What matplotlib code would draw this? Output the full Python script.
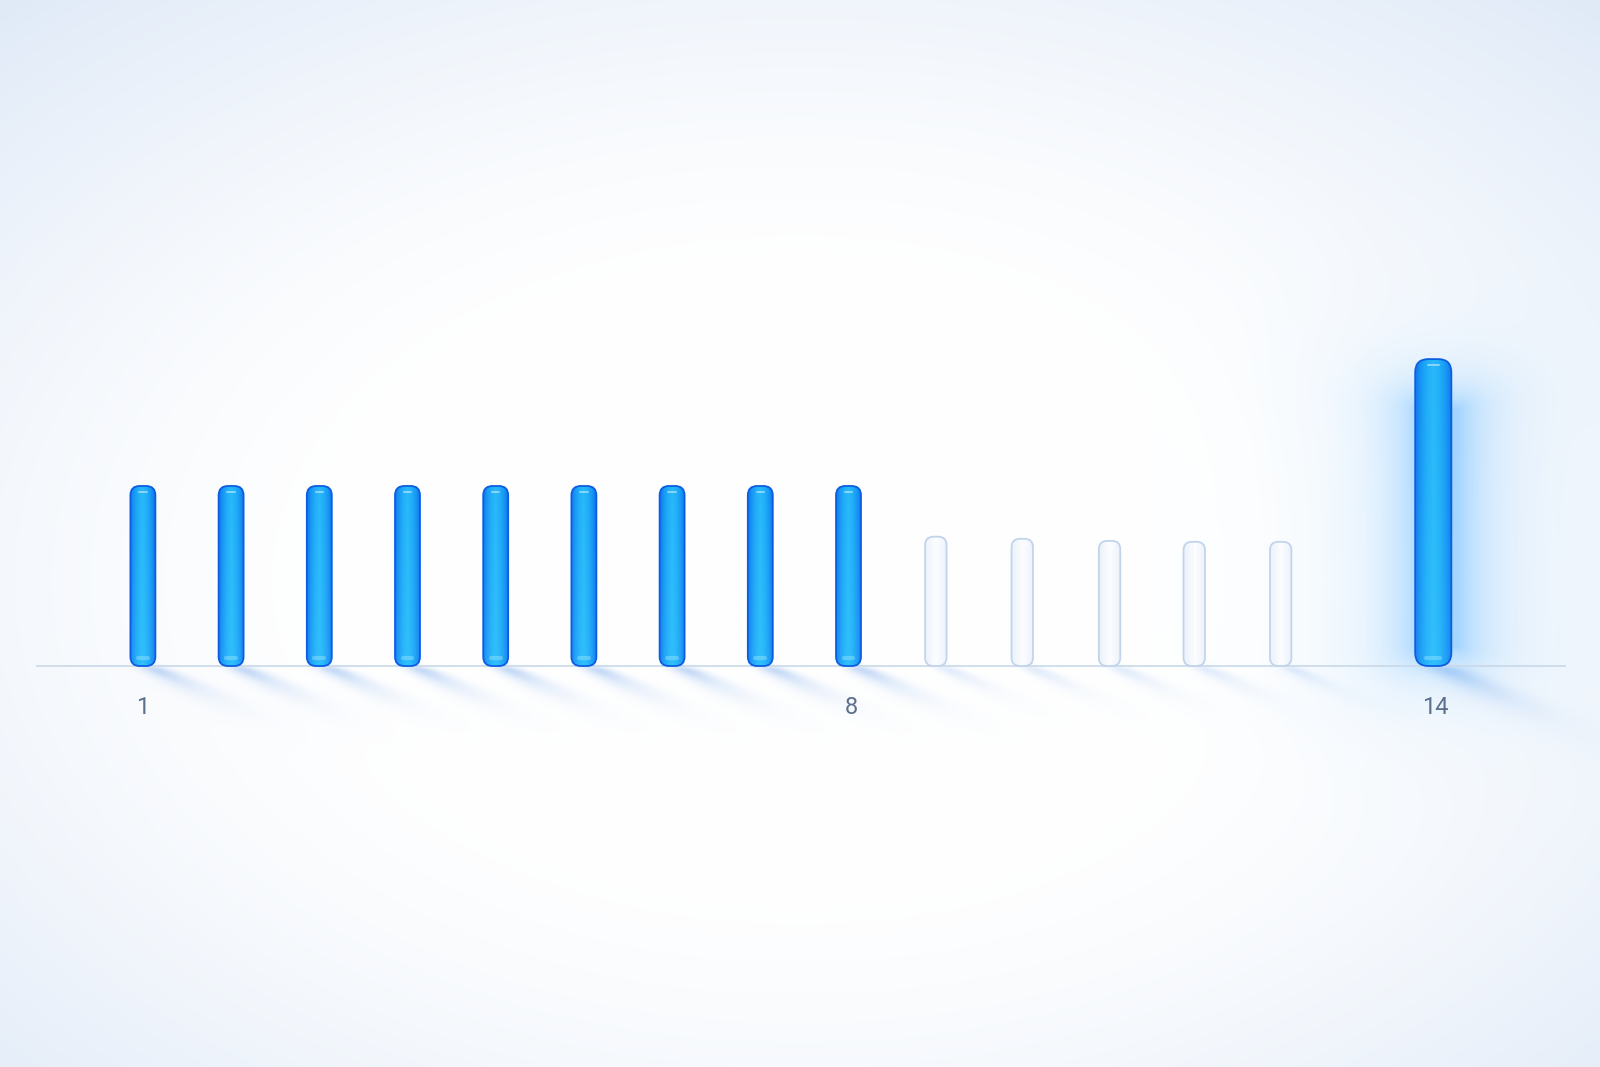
import numpy as np
import matplotlib
matplotlib.use("Agg")
import matplotlib.pyplot as plt
from matplotlib.patches import FancyBboxPatch
from matplotlib.colors import to_rgb

# data
bar_pos = [0, 1, 2, 3, 4, 5, 6, 7, 8, 8.99, 9.97, 10.96, 11.92, 12.9, 14.63]
bar_val = [60, 60, 60, 60, 60, 60, 60, 60, 60, 43.1, 42.4, 41.7, 41.4, 41.4, 102.3]
bar_kind = ['done'] * 9 + ['todo'] * 5 + ['goal']
tick_pos = [0, 8.03, 14.65]
tick_labels = ['1', '8', '14']

W, H = 1600, 1067
SX, SY = 88.2, 3.0           # pixels per data unit
X0_PX, BASE_PX = 142.9, 666  # pixel of x=0 / y=0 (from top)
xlim = (-X0_PX / SX, (W - X0_PX) / SX)
ylim = (-(H - BASE_PX) / SY, BASE_PX / SY)

width = {'done': 0.283, 'todo': 0.243, 'goal': 0.41}
radius = {'done': 0.105, 'todo': 0.095, 'goal': 0.15}

fig = plt.figure(figsize=(16, 10.67), dpi=100)
ax = fig.add_axes([0, 0, 1, 1])
ax.axis('off')

# background, shadows and glow built as one image in pixel space
X, Y = np.meshgrid(np.arange(W) + 0.5, np.arange(H) + 0.5)
r = np.sqrt(((X - 800) / 950) ** 2 + ((Y - 580) / 620) ** 2)
t = np.clip((r - 0.45) / 0.85, 0, 1) ** 1.5
white = np.array(to_rgb('#ffffff'))
edge = np.array(to_rgb('#dde8f7'))
img = white[None, None, :] * (1 - t[..., None]) + edge[None, None, :] * t[..., None]


def blend(img, alpha, color):
    c = np.array(to_rgb(color))
    a = np.clip(alpha, 0, 1)[..., None]
    return img * (1 - a) + c[None, None, :] * a


for x, v, k in zip(bar_pos, bar_val, bar_kind):
    cx = X0_PX + x * SX
    wpx = width[k] * SX
    dy = Y - BASE_PX
    dyp = np.clip(dy, 0, None)
    strength = {'done': 0.5, 'todo': 0.26, 'goal': 0.5}[k]
    length = {'done': 17, 'todo': 15, 'goal': 24}[k]
    xc = cx + 6 + 2.0 * dyp
    half = wpx * 0.5 + 0.4 * dyp
    across = (X - xc) / half
    gate = 1 / (1 + np.exp(-(dy - 1) / 1.5))
    sh = strength * gate * np.exp(-dyp / length) * np.exp(-across ** 2)
    img = blend(img, sh, '#5f98e8')
    if k == 'goal':
        top = BASE_PX - v * SY
        ddx = np.clip(np.abs(X - cx - 6) - wpx / 2, 0, None)
        ddy = np.clip(np.maximum(top + 50 - Y, Y - BASE_PX + 20), 0, None)
        d = np.sqrt(ddx ** 2 + (ddy * 1.3) ** 2)
        glow = 0.45 * np.exp(-d / 30) + 0.12 * np.exp(-d / 90)
        img = blend(img, glow, '#62b8ff')

ax.imshow(img, extent=[xlim[0], xlim[1], ylim[0], ylim[1]], origin='upper',
          aspect='auto', zorder=0, interpolation='bilinear')

# baseline
ax.hlines(0, (36 - X0_PX) / SX, (1566 - X0_PX) / SX, color='#c9d8e8', lw=1.2, zorder=1)

asp = SX / SY
stops = ['#1178ee', '#189cf5', '#22b2f9', '#2abdfb', '#22b2f9', '#189cf5', '#1178ee']
stop_rgb = np.array([to_rgb(c) for c in stops])
u = np.linspace(0, 6, 60)
row = np.stack([np.interp(u, np.arange(7), stop_rgb[:, i]) for i in range(3)], axis=-1)

for x, v, k in zip(bar_pos, bar_val, bar_kind):
    w = width[k]
    rr = radius[k]
    style = f"round,pad=0,rounding_size={rr}"
    box = FancyBboxPatch((x - w / 2, 0), w, v, boxstyle=style, mutation_aspect=asp,
                         facecolor='none', edgecolor='none')
    ax.add_patch(box)
    if k == 'todo':
        fill = np.stack([np.interp(np.linspace(0, 1, 40), [0, 0.5, 1], [c1, c2, c1])
                         for c1, c2 in zip(to_rgb('#eaf1fa'), to_rgb('#fcfdff'))], axis=-1)[None, :, :]
        im = ax.imshow(fill, extent=[x - w / 2, x + w / 2, 0, v], aspect='auto', zorder=3, alpha=0.85)
        im.set_clip_path(box)
        ax.add_patch(FancyBboxPatch((x - w / 2, 0), w, v, boxstyle=style, mutation_aspect=asp,
                                    facecolor='none', edgecolor='#c2d4ec', lw=1.3, zorder=4))
    else:
        # vertical shading: a touch deeper at the top, lighter toward the bottom
        vt = np.linspace(0, 1, 80)[:, None, None]
        fill = row[None, :, :] * (1 - 0.12 * vt) + np.array(to_rgb('#6fd8ff'))[None, None, :] * 0.12 * vt
        fill = fill * (1 - 0.05 * (1 - vt)) + np.array(to_rgb('#0a60e0')) * 0.05 * (1 - vt)
        im = ax.imshow(np.clip(fill, 0, 1), extent=[x - w / 2, x + w / 2, 0, v], aspect='auto',
                       zorder=3, origin='upper', interpolation='bilinear')
        im.set_clip_path(box)
        ax.add_patch(FancyBboxPatch((x - w / 2, 0), w, v, boxstyle=style, mutation_aspect=asp,
                                    facecolor='none', edgecolor='#0b5ee2', lw=1.3, zorder=5))
        # specular highlight on the top cap
        ax.plot([x - w * 0.15, x + w * 0.15], [v - 2.0, v - 2.0], color='white', lw=1.4,
                alpha=0.45, solid_capstyle='round', zorder=6)
        # lighter glass cap at the bottom
        ax.plot([x - w * 0.2, x + w * 0.2], [2.6, 2.6], color='#b5f0ff', lw=3.0,
                alpha=0.35, solid_capstyle='round', zorder=6)

for p, lab in zip(tick_pos, tick_labels):
    ax.text(p, -13.8, lab, ha='center', va='center', fontsize=17, color='#5b708c',
            family=['Roboto', 'DejaVu Sans'])

ax.set_xlim(*xlim)
ax.set_ylim(*ylim)
fig.savefig('out.png', dpi=100)
